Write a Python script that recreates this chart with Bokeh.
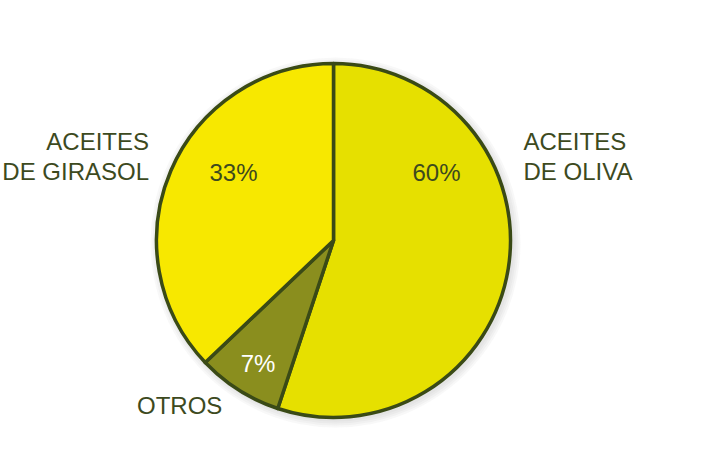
from bokeh.plotting import figure
from bokeh.models import Range1d, ColumnDataSource
from bokeh.core.properties import value
from bokeh.embed import file_html
from bokeh.resources import INLINE
import math

# ---- data ----
categories = ["ACEITES DE OLIVA", "OTROS", "ACEITES DE GIRASOL"]
# share of the circle each slice occupies in the drawing (percent)
shares = [55.1, 7.8, 37.1]
pct_labels = ["60%", "7%", "33%"]
slice_colors = ["#E6E000", "#8A8E1E", "#F7E800"]

W, H = 686, 456
p = figure(width=W, height=H, x_range=Range1d(0, W), y_range=Range1d(0, H),
           output_backend="svg", toolbar_location=None, min_border=0)
p.axis.visible = False
p.grid.visible = False
p.outline_line_color = None
p.background_fill_color = "white"
p.border_fill_color = "white"

def X(px):
    return px

def Y(py):
    return H - py

cx, cy, r = X(333), Y(240), 177

# soft shadow
for i, a in enumerate([0.05, 0.05, 0.05, 0.05]):
    p.circle(x=cx + 2, y=cy - 2, radius=r + 2 + i * 2, fill_color="#777777",
             fill_alpha=a, line_color=None)

total = sum(shares)
starts, ends = [], []
cum = 0.0
for s in shares:
    starts.append(math.pi / 2 - 2 * math.pi * cum / total)
    cum += s
    ends.append(math.pi / 2 - 2 * math.pi * cum / total)

src = ColumnDataSource(dict(cat=categories, share=shares, start=starts, end=ends, color=slice_colors))
p.wedge(x=cx, y=cy, radius=r, start_angle="start", end_angle="end", direction="clock",
        fill_color="color", line_color="#3A4A16", line_width=3.5, line_join="round", source=src)

font = value("Liberation Sans")
txt_col = "#3D4A1E"
dy = 9  # baseline correction

# percentage labels
p.text(x=[X(436), X(257.5), X(233)], y=[Y(181 - dy), Y(372 - dy), Y(181 - dy)], text=pct_labels,
       text_font=font, text_font_size="24px", text_align="center", text_baseline="alphabetic",
       text_color=[txt_col, "white", txt_col])

# category labels
p.text(x=[X(523), X(523)], y=[Y(150 - dy), Y(180 - dy)], text=["ACEITES", "DE OLIVA"],
       text_font=font, text_font_size="24px", text_align="left", text_baseline="alphabetic",
       text_color=txt_col)
p.text(x=[X(148.5), X(148.5)], y=[Y(150 - dy), Y(180 - dy)], text=["ACEITES", "DE GIRASOL"],
       text_font=font, text_font_size="24px", text_align="right", text_baseline="alphabetic",
       text_color=txt_col)
p.text(x=[X(136.5)], y=[Y(414 - dy)], text=["OTROS"],
       text_font=font, text_font_size="24px", text_align="left", text_baseline="alphabetic",
       text_color=txt_col)

open("out.html", "w").write(file_html(p, INLINE))
